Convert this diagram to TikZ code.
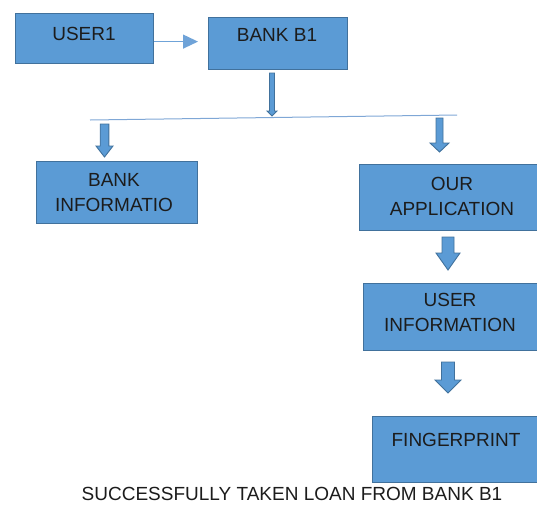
\documentclass[tikz,border=0pt]{standalone}
\usepackage{fontspec}
\setmainfont{Liberation Sans}
\usetikzlibrary{arrows.meta,calc}
\definecolor{boxfill}{HTML}{5B9BD5}
\definecolor{boxline}{HTML}{41719C}
\definecolor{linkblue}{HTML}{6FA3D8}
\definecolor{railblue}{HTML}{7FA7D6}
\definecolor{ink}{HTML}{1C1C1C}

% block arrow pointing down: x, top, tip, shaft half-width, head half-width, head length
\newcommand\blockarrow[6]{%
  \filldraw[barrow] ({#1-#4},#2) -- ({#1+#4},#2) -- ({#1+#4},{#3-#6})
    -- ({#1+#5},{#3-#6}) -- (#1,#3) -- ({#1-#5},{#3-#6})
    -- ({#1-#4},{#3-#6}) -- cycle;}

\begin{document}
\begin{tikzpicture}[x=1pt,y=-1pt,
  box/.style={draw=boxline, fill=boxfill, line width=1.2pt, inner sep=0pt,
    anchor=north west},
  lbl/.style={anchor=north, inner sep=0pt, align=center, text=ink,
    font=\fontsize{19}{25}\selectfont},
  barrow/.style={draw=boxline, fill=boxfill, line width=0.9pt, line join=miter},
  link/.style={draw=linkblue, line width=1.2pt,
    -{Triangle[length=15pt,width=14pt]}, shorten >=10pt},
  rail/.style={draw=railblue, line width=1pt}]
\useasboundingbox (0,0) rectangle (537,504);
\clip (0,0) rectangle (537,504);

% boxes
\node[box, minimum width=138pt, minimum height=50pt] (user) at (15,13) {};
\node[box, minimum width=139pt, minimum height=52pt] (bank) at (208,17) {};
\node[box, minimum width=161pt, minimum height=62pt] (binfo) at (36,161) {};
\node[box, minimum width=186pt, minimum height=66pt] (app) at (359,164) {};
\node[box, minimum width=176pt, minimum height=67pt] (uinfo) at (363,283) {};
\node[box, minimum width=170pt, minimum height=66pt] (finger) at (372,416) {};

% labels
\node[lbl] (tuser) at (84,27) {USER1};
\node[lbl] (tbank) at (277,28) {BANK B1};
\node[lbl] (tbinfo) at (114,173) {BANK\\INFORMATIO};
\node[lbl] (tapp) at (452,177) {OUR\\APPLICATION};
\node[lbl] (tuinfo) at (450,293) {USER\\INFORMATION};
\node[lbl] (tfinger) at (456,433) {FINGERPRINT};
\node[lbl] (caption) at (292,487) {SUCCESSFULLY TAKEN LOAN FROM BANK B1};

% connectors
\draw[link] ($(user.east)+(0,3)$) -- ($(bank.west)+(0,-2)$);

\coordinate (railL) at (90,120);
\coordinate (railR) at (457,115);
\draw[rail] (railL) -- (railR);

\blockarrow{272}{73}{116}{2.5}{5}{5}
\blockarrow{104.5}{124}{157}{4.3}{8.5}{11}
\blockarrow{439.5}{118}{152}{3.5}{9.5}{9}
\blockarrow{448}{237}{270}{6}{12}{17}
\blockarrow{448}{362}{393}{6.5}{13}{13}
\end{tikzpicture}
\end{document}
